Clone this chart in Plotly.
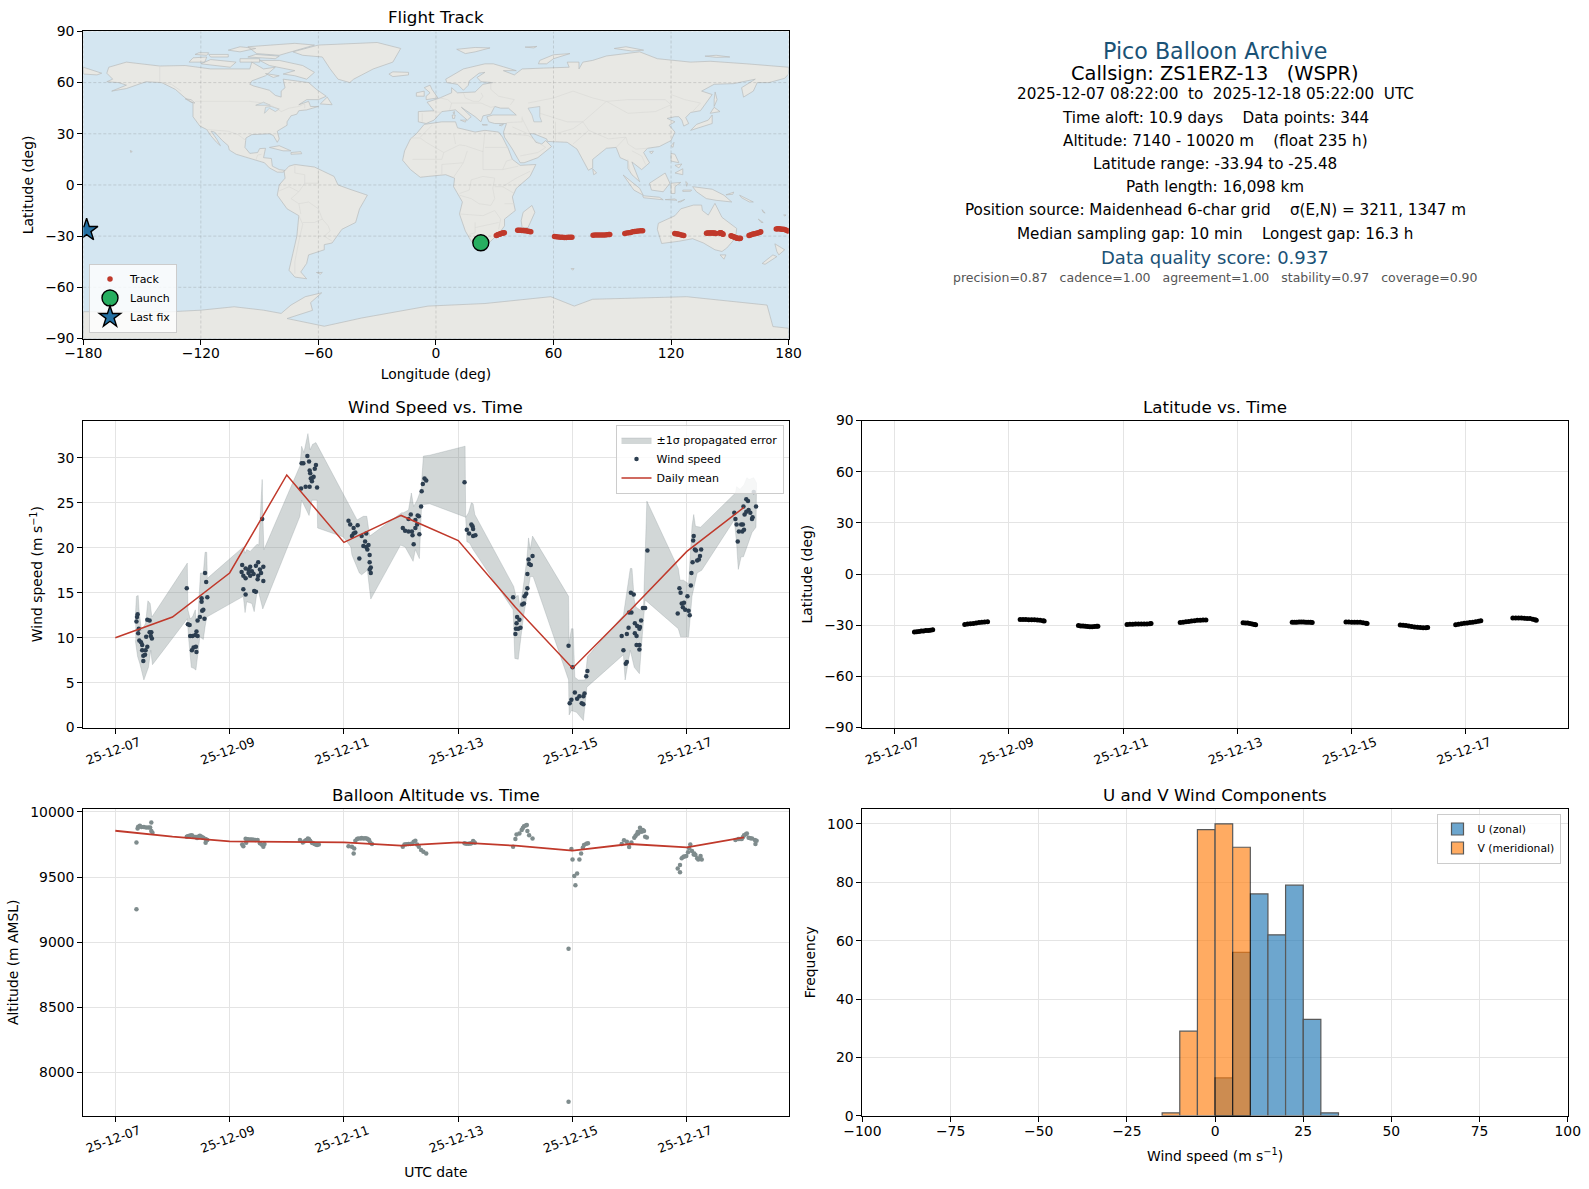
import pandas as pd
import plotly.graph_objects as go

FONT = "DejaVu Sans"
WIDTH = 1589
HEIGHT = 1189
START = pd.Timestamp("2025-12-07")

# --- map outlines (lon, lat) ---
NORTH_AMERICA = [(-168,65.5),(-167,69),(-158,72),(-141,69.7),(-128,70),(-115,68),(-108,68),(-95,68),(-94,72),(-88,68),(-82,69),(-87,64),(-94,61),(-95,59),(-93,58),(-85,55.5),(-82,52.5),(-79,51.5),(-79,55),(-77,57),(-78,62),(-70,61),(-65,60),(-61,56),(-56,52),(-60,50),(-66,50),(-70,47),(-65,49),(-64,46),(-60,46),(-66,44),(-70,43.5),(-71,41.5),(-74,40.5),(-76,37),(-76,35),(-81,31.5),(-80,27),(-81,25),(-83,29),(-85,30),(-90,29.5),(-94,29.5),(-97,27.5),(-97.5,22),(-95,18.5),(-91,19),(-90,21.3),(-87,21.5),(-88,16),(-84,15.5),(-83.5,11),(-80,9),(-77,8.5),(-78,7.5),(-81,7.5),(-85,10),(-87.5,13),(-92,14.5),(-96,16),(-102,18),(-105.5,20.5),(-106,23),(-109,26),(-113,31),(-114.8,31.5),(-112,27),(-110,23),(-112,25),(-115,29),(-117,32.5),(-120.5,34.5),(-124,40),(-124,48),(-128,51),(-133,56),(-140,60),(-148,60.5),(-152,59),(-158,56.5),(-165.5,55),(-158,58.5),(-162,60),(-168,60.5),(-165,62)]
GREENLAND = [(-73,78),(-60,82),(-30,83.5),(-18,80),(-22,72),(-32,68),(-42,62),(-44,60),(-50,62),(-54,68),(-58,75),(-68,76)]
BAFFIN = [(-90,73),(-80,73),(-68,70),(-62,66),(-66,62),(-72,64),(-78,65),(-72,67),(-85,70)]
VICTORIA = [(-120,71),(-105,69),(-102,72),(-115,73.5)]
ELLESMERE = [(-91.5,77),(-80,76),(-62,82),(-72,83),(-96,81)]
AXEL_HEIBERG = [(-106,79),(-100,78),(-92,80),(-100,81)]
BANKS = [(-126,72),(-118,72),(-117,75),(-124,74.5)]
PRINCE_PATRICK = [(-123,76.5),(-117,76),(-116,77.5),(-121,77.5)]
DEVON = [(-96,75),(-82,74),(-80,75.5),(-92,76.5)]
MELVILLE = [(-115,75),(-106,75),(-106,76.5),(-116,76.5)]
SOMERSET = [(-100,72),(-90,72),(-90,74),(-100,74)]
SOUTHAMPTON = [(-87,65.3),(-80,64),(-83,63)]
NEWFOUNDLAND = [(-59,47.5),(-53,47),(-55.5,51.5)]
VANCOUVER = [(-128,50.5),(-125,50),(-123,48),(-125,48.5)]
HAWAII = [(-156,20.2),(-155,19.6),(-155.8,19)]
CUBA = [(-85,22),(-80,23),(-74,20),(-78,20)]
HISPANIOLA = [(-74,19),(-69,19.5),(-68.5,18.3),(-74,18)]
SOUTH_AMERICA = [(-72,12),(-62,10.5),(-52,5),(-50,0),(-44,-2.5),(-35,-6),(-39,-14),(-41,-22),(-48,-26),(-53,-34),(-57,-35),(-57,-38),(-65,-41),(-66,-46),(-69,-51),(-66,-55),(-72,-54),(-75,-50),(-73,-40),(-71,-30),(-70,-18),(-76,-14),(-81,-6),(-80,0),(-77,4),(-77.5,8),(-75,11)]
FALKLANDS = [(-61,-51.3),(-58,-51.3),(-59,-52.3)]
AFRICA = [(-6,35.5),(3,37),(10,37),(11,33.5),(20,31),(25,32),(32,31),(34,28),(37,21),(39,15),(43,11.5),(51,12),(48,5),(41,-2),(39,-7),(40.5,-15),(35,-20),(35,-24),(32.5,-28),(27,-34),(20,-35),(18,-33),(15,-27),(12,-17),(13.5,-10),(9,-1),(9.5,4),(5,6),(-4,5),(-8,4.5),(-13,9),(-17,14.5),(-16,20),(-13,27),(-10,30)]
MADAGASCAR = [(49,-12),(50.5,-16),(47,-25),(44,-25),(43.5,-21),(44.5,-16)]
KERGUELEN = [(69,-49),(70.5,-49),(69.8,-50)]
EURASIA = [(-9,37),(-9,43),(-1,43.5),(-4.5,48.5),(2,51),(8,54),(8,57),(11,54),(20,54.5),(24,59),(29,60),(23,60.5),(21,63),(25,66),(22,65.5),(17,61),(16.5,58.4),(14,55.5),(11,59),(5.5,60),(5,62),(14,68),(25,71),(29.3,71),(41,67),(34.4,67),(40,64.5),(44,68),(55,68.5),(68,69),(67,72),(73,72),(73,68),(75,72),(80,73),(87,75.6),(104,78),(113,74),(130,72),(140,72.5),(158.6,71),(170.5,70),(180,69),(180,65),(178,62.5),(170,60),(164,60),(162,55),(157,51.5),(156,57),(163,62),(152,59.4),(142,59),(135.6,55),(141,53),(135,43.5),(130,42.5),(127.5,39.5),(129,36),(126.5,34.5),(125.5,38),(124,40),(122,40),(118,39),(122,37),(119,35),(122,31),(120,26),(114,22.5),(108,21.5),(106,19),(109,13),(105,9),(100,13.5),(104,1.9),(100,6),(98,9.7),(98,14),(94,16),(92,22),(87,21.5),(80,15),(80,10),(77.8,8.6),(73,19),(72,21),(67,25),(57,25.5),(56.5,27),(50,30),(48,30),(51,25),(54,24),(56,26),(59,22.5),(52,16),(45,13),(43,13),(39,21),(35,28),(34.5,31),(36,36),(30,36),(27,37),(26,40),(29,41),(41,41),(37,45),(33,45),(30,46),(28,41.5),(24,40.5),(23,37),(20,40),(13,45.5),(18,40),(16,38),(10,44),(3,43),(-1,38),(-5,36)]
CHUKOTKA = [(-180,69),(-170.6,65.5),(-173,64.5),(-180,65)]
BRITAIN = [(-5,50),(1,51),(-2,56),(-3,58.5),(-6,57),(-3,54),(-5,52)]
IRELAND = [(-10,52),(-6,52),(-6,55),(-10,54)]
ICELAND = [(-24,65),(-22,66.3),(-14,66),(-14,64.5),(-22,63.5)]
SVALBARD = [(10.6,79.5),(20,80.6),(27.6,80.3),(20,78),(15,77)]
FRANZ_JOSEF = [(45.5,80.8),(51.5,81.2),(50,80.3)]
NOVAYA_ZEMLYA = [(52.3,71),(56.5,71),(60,74),(68.4,77),(60,76.3),(53,73)]
SEVERNAYA_ZEMLYA = [(91,80),(97,81),(106,79),(100,78.5)]
NEW_SIBERIAN = [(137.3,75.5),(143,76),(150,75),(143,74.8)]
HONSHU = [(130,32),(136,34),(141,36),(141,41),(139,38),(133,35.5)]
HOKKAIDO = [(140,42),(145,43),(142,45.5)]
SAKHALIN = [(142,46),(143.5,50),(142.5,54.5),(142,50)]
TAIWAN = [(120,23),(121.5,25),(121,22)]
HAINAN = [(109,19.5),(111,19.8),(110,18.2)]
SRI_LANKA = [(80,9.5),(82,7),(80.5,6)]
SUMATRA = [(95.6,5.8),(104,-2),(105.8,-6),(101,-3)]
JAVA = [(105.5,-6.3),(114,-7.2),(116,-8.7),(106,-7.5)]
FLORES = [(117,-8.6),(122,-8.2),(123,-9),(118,-9)]
TIMOR = [(123.5,-10),(127,-8.5),(125,-9.9)]
BORNEO = [(109,1),(117,7),(119.4,1),(116,-4),(110,-3)]
SULAWESI = [(120,1),(125,1.5),(122,-1),(122,-5),(120,-5)]
HALMAHERA = [(127.5,2),(128.5,1),(128,-0.8)]
SERAM = [(126,-3),(130.5,-3),(130,-3.7),(126,-3.8)]
NEW_GUINEA = [(131,-1),(141,-2.5),(147,-6),(151,-10),(143,-9),(138,-8),(133,-4)]
NEW_BRITAIN = [(148,-5.8),(152,-4.2),(151.5,-5.5)]
SOLOMON = [(155,-6),(162,-10),(160,-10),(156,-7.5)]
VANUATU = [(166.5,-14.5),(168,-16.5),(167,-16)]
NEW_CALEDONIA = [(164.5,-20),(167,-22),(166,-22)]
FIJI = [(177.5,-17.5),(178.7,-17.6),(178,-18.3)]
LUZON = [(120,18.5),(122,18),(124,13),(120,14)]
VISAYAS = [(122,11.5),(125.5,12.3),(124,10)]
MINDANAO = [(122,7),(126,9.5),(126,6)]
AUSTRALIA = [(113.5,-22.5),(122,-18),(125,-14),(131.4,-11.8),(135.6,-11.8),(136,-15),(139,-17.7),(142.4,-10.8),(146,-19),(153.5,-25.5),(153,-31),(148.4,-37),(146,-39),(142.4,-38),(136.5,-34),(131,-31.5),(124,-33),(115.2,-34.3),(113,-26)]
TASMANIA = [(145,-41),(148,-41),(147,-43.5)]
NZ_NORTH = [(173,-34.5),(178,-38),(175,-41),(174,-39)]
NZ_SOUTH = [(172,-41),(174,-42),(168,-46.5),(166.5,-46)]
SICILY = [(12.5,38),(15.5,38),(15,36.8)]
SARDINIA = [(8.3,41),(9.8,41),(9.5,39),(8.5,39)]
CORSICA = [(8.7,42.5),(9.5,43),(9.3,41.5)]
CRETE = [(23.5,35.5),(26.3,35.2),(24,35)]
CYPRUS = [(32.3,35),(34.5,35.6),(33.5,34.7)]
ANTARCTICA = [(-180,-74.3),(-135,-74.3),(-120,-73.4),(-103,-71.4),(-88,-73.4),(-79,-75.3),(-74,-70.4),(-66.7,-65.5),(-58.3,-63.2),(-64,-69),(-63,-73.5),(-76,-78.3),(-57,-82.8),(-38,-78),(-4,-71),(25,-69.5),(58.6,-65.5),(70.6,-71),(80,-67),(128,-65.5),(169,-70.4),(172,-83),(180,-84),(180,-90),(-180,-90)]

LAND = [NORTH_AMERICA, GREENLAND, BAFFIN, VICTORIA, ELLESMERE, AXEL_HEIBERG, BANKS, PRINCE_PATRICK, DEVON, MELVILLE, SOMERSET,
        SOUTHAMPTON, NEWFOUNDLAND, VANCOUVER, HAWAII, CUBA, HISPANIOLA, SOUTH_AMERICA, FALKLANDS, AFRICA, MADAGASCAR, KERGUELEN,
        EURASIA, CHUKOTKA, BRITAIN, IRELAND, ICELAND, SVALBARD, FRANZ_JOSEF, NOVAYA_ZEMLYA, SEVERNAYA_ZEMLYA, NEW_SIBERIAN, HONSHU,
        HOKKAIDO, SAKHALIN, TAIWAN, HAINAN, SRI_LANKA, SUMATRA, JAVA, FLORES, TIMOR, BORNEO, SULAWESI, HALMAHERA, SERAM, NEW_GUINEA,
        NEW_BRITAIN, SOLOMON, VANUATU, NEW_CALEDONIA, FIJI, LUZON, VISAYAS, MINDANAO, AUSTRALIA, TASMANIA, NZ_NORTH, NZ_SOUTH,
        SICILY, SARDINIA, CORSICA, CRETE, CYPRUS, ANTARCTICA]

CASPIAN = [(47,45),(53,46),(53,40),(54,37),(50,37),(49,41)]
SUPERIOR = [(-92,46.7),(-88,48.5),(-84.5,46.7)]
HURON_MICHIGAN = [(-87.5,42),(-87,45.5),(-84,46),(-80,44.5),(-82,43),(-85,45)]
LAKES = [CASPIAN, SUPERIOR, HURON_MICHIGAN]

BORDERS = [
    [(-141,69.7),(-141,60),(-135,59),(-130,55)],
    [(-123,49),(-95,49),(-88,48),(-83,46),(-79,43),(-75,45),(-70,46),(-67,47.5),(-67,45)],
    [(-117,32.5),(-106,31.5),(-101,29.5),(-97,26)],
    [(-92,14.5),(-91,17.5),(-89,18)],
    [(-72,12),(-72,7),(-67,6),(-67,1)],
    [(-60,8),(-60,1),(-67,1),(-70,-4),(-74,-8),(-70,-11),(-65,-10),(-60,-14),(-58,-20),(-55,-24),(-54,-27),(-57,-30),(-53,-33)],
    [(-70,-18),(-68,-23),(-70,-33),(-72,-45),(-72,-52)],
    [(-70,-11),(-69,-17)],
    [(-68,-22),(-62,-22),(-58,-20)],
    [(-80,-3.5),(-75,-1),(-70,-4)],
    [(-2,35),(-8,28)],
    [(-13,27.5),(-8,27.5),(-5,25),(4,19),(12,23.5),(15,23),(24,19.5),(25,31.5)],
    [(9,30),(10,24)],
    [(25,22),(37,22)],
    [(24,20),(24,9),(34,9),(36,14),(39,15)],
    [(14,13),(16,20)],
    [(-12,15),(-5,15),(3,15),(4,19)],
    [(3,6),(3,12),(14,13),(9,4.5)],
    [(12,-6),(18,-8),(22,-11),(28,-12),(30,-8),(29,-2),(30,4),(24,5),(18,3),(17,-3),(12,-5)],
    [(12,-17),(24,-18),(30,-15),(33,-20),(32,-26)],
    [(17,-29),(20,-28),(20,-22)],
    [(35,-11),(40,-11)],
    [(20,-25),(27,-23),(32,-22)],
    [(30,-1),(34,-1),(40,-5)],
    [(34,-1),(41,4),(48,8)],
    [(34,9),(42,11)],
    [(2,51),(6,50),(8,48),(7,44)],
    [(-2,43),(3,42.5)],
    [(-7,42),(-7,37)],
    [(14,54),(15,51),(19,49),(22,49),(24,52),(23,54)],
    [(8,48),(13,48),(17,48),(23,48),(28,45.5),(30,46)],
    [(28,60),(28,56),(32,52),(40,50),(38,47)],
    [(47,48),(60,51),(70,55),(80,51),(87,49)],
    [(87,49),(98,42),(112,43),(120,47),(117,50),(107,50),(98,50),(87,49)],
    [(120,53),(127,50),(135,48),(131,43)],
    [(53,42),(67,37),(75,37),(80,42),(87,49)],
    [(44,39),(48,30)],
    [(61,37),(61,25)],
    [(61,30),(70,33),(75,37),(78,32),(70,24)],
    [(78,32),(88,27),(97,28),(92,22)],
    [(97,28),(98,24),(102,21),(108,21.5)],
    [(100,20),(105,17),(107,12)],
    [(98,15),(99,8)],
    [(36,30),(47,29),(56,22),(52,19),(43,17)],
    [(39,34),(47,30)],
    [(36,36.5),(44,37),(44,40)],
]

MAP_LON_TICKS = [-180, -120, -60, 0, 60, 120, 180]
MAP_LAT_TICKS = [-90, -60, -30, 0, 30, 60, 90]

# --- track: days since 2025-12-07 00:00, latitude, longitude ---
track_day = [0.35,0.39,0.43,0.47,0.51,0.55,0.59,0.63,0.67,
             1.23,1.28,1.33,1.38,1.43,1.48,1.53,1.58,1.63,
             2.20,2.25,2.30,2.35,2.40,2.45,2.50,2.55,2.60,2.62,
             3.22,3.26,3.30,3.34,3.38,3.42,3.46,3.50,3.54,3.56,
             4.07,4.12,4.17,4.22,4.27,4.32,4.37,4.42,4.47,4.49,
             5.00,5.05,5.10,5.15,5.20,5.25,5.30,5.35,5.40,5.45,
             6.10,6.14,6.18,6.22,6.26,6.30,6.32,
             6.96,7.00,7.04,7.08,7.12,7.16,7.20,7.24,7.28,7.31,
             7.90,7.95,8.00,8.05,8.10,8.15,8.20,8.25,8.27,
             8.85,8.90,8.95,9.00,9.05,9.10,9.15,9.20,9.25,9.30,9.33,
             9.82,9.87,9.92,9.97,10.02,10.07,10.12,10.17,10.22,10.26,
             10.82,10.87,10.92,10.97,11.02,11.07,11.12,11.17,11.21,11.23]
track_lat = [-34.0,-33.8,-33.6,-33.4,-33.3,-33.1,-33.0,-32.9,-32.7,
             -29.6,-29.3,-29.1,-28.9,-28.6,-28.4,-28.2,-28.1,-28.0,
             -26.6,-26.6,-26.6,-26.7,-26.7,-26.8,-26.9,-27.1,-27.3,-27.5,
             -30.2,-30.4,-30.5,-30.6,-30.7,-30.8,-30.8,-30.7,-30.6,-30.6,
             -29.5,-29.4,-29.4,-29.3,-29.3,-29.3,-29.3,-29.2,-29.1,-29.0,
             -28.4,-28.2,-28.0,-27.8,-27.5,-27.3,-27.1,-27.0,-26.9,-26.9,
             -28.5,-28.6,-28.7,-28.9,-29.2,-29.5,-29.7,
             -28.3,-28.2,-28.2,-28.1,-28.1,-28.1,-28.2,-28.2,-28.3,-28.4,
             -28.1,-28.1,-28.2,-28.2,-28.2,-28.3,-28.5,-28.8,-28.9,
             -29.8,-30.0,-30.2,-30.5,-30.7,-31.0,-31.2,-31.3,-31.4,-31.4,-31.3,
             -29.7,-29.4,-29.1,-28.8,-28.6,-28.4,-28.2,-28.0,-27.7,-27.4,
             -25.8,-25.7,-25.7,-25.8,-25.9,-26.0,-26.1,-26.4,-26.8,-27.0]
track_lon = [22.9,23.1,23.3,23.5,23.7,23.9,24.1,24.3,24.5,
             30.8,31.3,31.8,32.4,32.9,33.4,33.9,34.4,34.9,
             41.7,42.4,43.2,43.9,44.7,45.4,46.2,47.0,47.8,48.4,
             60.5,61.5,62.5,63.5,64.5,65.5,66.5,67.5,68.5,69.4,
             80.2,81.2,82.2,83.2,84.2,85.2,86.2,87.2,88.2,88.7,
             96.4,97.4,98.4,99.4,100.4,101.4,102.4,103.4,104.5,105.5,
             121.9,122.6,123.3,124.0,124.9,125.8,126.5,
             138.1,138.6,139.2,139.8,140.3,140.9,141.4,142.0,142.5,142.9,
             144.8,145.0,145.2,145.4,145.6,145.8,146.1,146.4,146.5,
             150.6,151.1,151.6,152.1,152.6,153.1,153.6,154.1,154.6,155.1,155.4,
             159.8,160.5,161.2,161.9,162.6,163.3,164.0,164.7,165.4,165.8,
             173.7,174.4,175.1,175.8,176.5,177.2,177.9,178.6,179.4,180.0]
launch_lon = [22.9]
launch_lat = [-33.9]
last_lon = [-178.3]
last_lat = [-26.5]

# --- wind speed ---
wind_day = [0.39,0.38,0.37,0.41,0.40,0.42,0.45,0.47,0.47,0.53,0.56,0.54,0.60,0.63,0.62,0.64,0.56,0.60,0.49,0.49,0.52,
            1.25,1.27,1.30,1.31,1.35,1.40,1.42,1.44,1.34,1.37,1.41,1.42,1.44,1.48,1.52,1.54,1.51,1.51,1.56,1.61,1.59,1.57,
            2.24,2.28,2.43,2.46,2.21,2.24,2.28,2.22,2.28,2.33,2.36,2.39,2.42,2.33,2.36,2.46,2.50,2.53,2.55,2.50,2.49,2.59,2.59,2.57,
            3.25,3.33,3.40,3.53,3.26,3.29,3.36,3.39,3.40,3.41,3.51,3.49,3.47,3.42,3.44,3.45,
            4.08,4.11,4.17,4.24,4.20,4.17,4.14,4.27,4.31,4.39,4.37,4.34,4.39,4.43,4.41,4.45,4.45,4.47,4.45,4.47,
            5.03,5.07,5.13,5.19,5.20,5.22,5.25,5.28,5.32,5.17,5.13,5.25,5.29,5.31,5.35,5.36,5.38,5.41,5.44,
            6.11,6.15,6.19,6.23,6.25,6.26,6.26,6.30,
            6.96,7.00,7.02,7.03,7.07,7.01,7.05,7.09,7.12,7.15,7.16,7.19,7.21,7.21,7.24,7.23,7.27,7.30,
            7.93,8.00,7.95,7.98,8.04,8.08,8.12,8.16,8.19,8.19,8.21,8.24,8.26,
            8.86,8.89,8.93,8.95,8.95,8.98,8.99,9.03,9.02,9.07,9.09,9.09,9.12,9.13,9.17,9.20,9.18,9.12,9.17,9.17,9.23,9.27,9.31,
            9.84,9.87,9.89,9.91,9.93,9.95,9.97,10.01,10.03,10.05,10.07,10.08,10.10,10.12,10.11,10.14,10.16,10.18,10.21,10.23,10.25,
            10.83,10.85,10.87,10.89,10.91,10.95,10.98,10.97,11.00,10.99,11.01,11.04,11.07,11.04,11.08,11.11,11.14,11.15,11.17,11.21]
wind_speed = [12.6,12.3,11.8,11.0,10.5,9.7,9.5,9.2,8.6,8.6,9.0,10.1,10.6,10.6,10.2,9.9,12.0,11.9,7.4,8.0,8.1,
              15.5,11.5,11.4,10.2,10.2,10.3,10.7,10.2,8.6,8.9,9.0,8.4,11.9,12.3,13.0,13.1,14.0,14.4,12.1,14.5,16.2,17.2,
              15.4,14.8,15.2,15.1,17.3,16.9,16.6,18.1,17.7,17.6,17.9,17.4,17.1,17.2,16.9,18.0,18.4,17.6,17.2,16.9,16.5,17.9,16.3,23.2,
              26.6,26.8,26.8,26.7,29.4,29.4,30.2,29.6,28.6,28.3,29.2,28.8,27.9,27.7,27.4,27.8,
              23.0,22.6,22.2,22.5,21.7,21.6,21.3,18.8,21.3,21.6,20.7,20.2,20.1,20.3,19.8,19.2,18.4,17.8,17.6,17.2,
              22.2,21.9,21.8,21.8,21.4,20.4,22.2,22.6,21.5,23.7,23.2,23.1,23.6,23.5,24.6,26.3,27.1,27.7,27.5,
              27.3,22.0,21.6,22.6,22.4,22.1,21.3,21.4,
              14.5,10.4,11.6,12.3,12.0,11.0,11.0,11.1,13.7,13.8,14.6,14.9,15.5,17.1,18.2,18.7,18.1,19.1,
              9.1,6.7,2.7,3.1,3.9,3.2,3.5,2.7,2.6,3.5,3.8,5.7,6.3,
              10.2,8.6,7.1,7.3,10.4,11.1,12.8,12.8,15.0,14.8,11.6,10.5,10.2,11.3,11.0,11.9,11.2,9.2,9.2,8.7,13.3,13.3,19.7,
              12.7,15.5,15.0,13.8,13.4,13.9,13.1,14.6,13.0,12.5,15.8,17.2,18.4,21.3,20.8,19.8,19.7,18.6,18.7,19.1,19.8,
              23.9,23.2,22.6,20.7,21.8,22.6,22.6,21.8,22.0,24.6,23.7,25.4,25.2,24.0,24.2,23.9,23.2,23.4,26.2,24.6]

band_upper_day = [0.35,0.37,0.40,0.42,0.46,0.53,0.57,0.61,0.64,1.26,1.27,1.31,1.35,1.40,1.42,1.45,1.49,1.54,1.57,1.60,1.61,
                  2.24,2.27,2.30,2.36,2.39,2.43,2.48,2.51,2.57,2.58,2.60,3.23,3.26,3.30,3.37,3.41,3.45,3.51,4.11,4.14,4.23,
                  4.34,4.40,4.45,5.01,5.04,5.13,5.18,5.22,5.28,5.35,5.39,5.50,6.12,6.13,6.18,6.23,6.26,6.29,6.97,7.01,7.05,
                  7.08,7.13,7.20,7.23,7.26,7.30,7.93,7.94,7.98,8.01,8.04,8.10,8.16,8.22,8.26,8.89,9.01,9.04,9.08,9.11,9.18,
                  9.24,9.30,9.85,9.88,9.94,10.03,10.09,10.12,10.15,10.24,10.85,10.87,10.93,11.00,11.05,11.09,11.17,11.22]
band_upper = [12.3,14.6,14.7,12.7,10.8,11.6,14.1,13.8,12.3,18.3,13.1,12.1,12.3,13.1,11.6,12.7,17.2,17.2,19.5,19.5,16.6,
              20.1,19.4,19.8,19.6,19.8,20.1,20.4,20.3,27.6,23.9,19.8,29.1,31.3,30.6,32.7,30.9,31.5,31.7,24.6,24.2,23.1,
              23.5,23.5,21.3,23.9,23.9,24.2,26.1,24.6,25.3,26.5,30.2,30.3,31.3,23.4,23.9,25.0,24.9,23.7,15.7,14.6,14.7,
              13.4,15.3,18.7,21.1,19.8,21.3,14.6,9.4,11.0,11.0,5.6,5.3,5.3,5.3,7.9,12.5,17.7,17.7,14.2,13.4,13.1,
              13.1,25.2,17.7,16.4,16.4,16.0,22.4,23.7,22.4,22.3,26.1,26.8,26.5,27.0,27.8,27.6,27.8,27.2]
band_lower_day = [0.35,0.39,0.43,0.50,0.54,0.58,0.62,0.65,1.26,1.28,1.33,1.37,1.41,1.44,1.48,1.54,1.57,1.60,2.24,2.27,2.30,
                  2.39,2.43,2.48,2.51,2.58,3.23,3.26,3.39,3.44,3.53,3.54,3.99,4.12,4.14,4.27,4.31,4.41,4.45,4.47,4.99,5.07,
                  5.21,5.25,5.32,5.36,5.50,6.13,6.15,6.20,6.26,6.96,6.99,7.05,7.09,7.14,7.26,7.31,7.93,7.94,7.98,8.07,8.19,
                  8.25,8.89,8.92,9.01,9.08,9.17,9.20,9.27,9.85,9.89,9.95,10.03,10.09,10.18,10.26,10.83,10.87,10.90,10.95,
                  10.99,11.04,11.14,11.21]
band_lower = [9.7,7.9,7.1,5.3,6.0,6.7,8.6,7.0,12.1,10.1,6.7,6.6,6.4,8.2,10.1,9.8,11.2,12.3,14.6,12.8,14.0,
              13.8,12.9,15.1,15.0,13.2,23.5,25.3,23.6,25.3,25.3,22.2,21.2,20.1,19.2,17.2,17.0,17.5,15.3,14.3,20.3,20.1,
              18.5,19.8,18.8,24.8,24.9,23.4,20.7,20.5,19.8,13.1,7.7,7.6,9.4,12.3,16.8,16.8,5.3,1.4,1.9,1.7,0.8,
              4.5,8.1,5.3,8.6,6.7,6.0,8.6,14.2,11.0,10.1,10.1,10.1,14.6,17.2,17.5,23.1,20.5,17.6,19.0,
              19.0,20.0,21.7,22.3]

daily_day = [0, 1, 2, 3, 4, 5, 6, 7, 8, 9, 10, 11]
daily_wind = [10.0, 12.3, 17.2, 28.1, 20.6, 23.6, 20.8, 13.4, 6.6, 13.0, 19.6, 24.5]
daily_alt = [9855, 9809, 9773, 9770, 9765, 9740, 9765, 9740, 9702, 9753, 9727, 9804]

# --- altitude ---
alt_day = [0.37,0.37,0.39,0.40,0.43,0.46,0.50,0.54,0.58,0.61,0.63,0.63,0.65,
           1.25,1.27,1.29,1.31,1.34,1.37,1.40,1.43,1.44,1.46,1.48,1.51,1.54,1.58,1.58,1.61,
           2.28,2.29,2.22,2.24,2.31,2.33,2.36,2.39,2.42,2.45,2.49,2.53,2.56,2.59,2.61,
           3.23,3.28,3.31,3.34,3.37,3.39,3.41,3.44,3.46,3.49,3.51,3.53,3.56,
           4.08,4.14,4.18,4.17,4.20,4.23,4.25,4.29,4.31,4.34,4.37,4.40,4.42,4.44,4.46,4.49,
           5.03,5.06,5.09,5.13,5.16,5.19,5.22,5.25,5.28,5.31,5.35,5.39,5.44,
           6.11,6.14,6.18,6.21,6.23,6.26,6.27,6.29,
           6.96,7.00,7.02,7.07,7.11,7.13,7.15,7.18,7.20,7.21,7.24,7.30,
           7.93,7.93,7.98,8.00,8.12,8.15,8.08,8.03,8.05,8.18,8.20,8.24,8.27,
           8.86,8.90,8.95,8.99,9.03,9.08,9.10,9.12,9.14,9.15,9.17,9.18,9.21,9.23,9.25,9.30,9.27,
           9.84,9.88,9.88,9.91,9.94,9.96,9.99,10.02,10.04,10.06,10.09,10.12,10.13,10.15,10.18,10.20,10.22,10.24,10.26,
           10.85,10.90,10.93,10.96,10.98,11.00,11.03,11.05,11.08,11.11,11.14,11.19,11.20,11.22]
alt_m = [9765,9253,9872,9885,9893,9883,9883,9880,9880,9880,9918,9852,9839,
         9809,9812,9814,9818,9821,9809,9806,9800,9809,9805,9816,9809,9801,9791,9763,9783,
         9793,9763,9750,9735,9790,9788,9788,9788,9786,9783,9783,9758,9750,9732,9753,
         9783,9765,9775,9783,9796,9790,9776,9763,9758,9753,9750,9745,9750,
         9735,9732,9719,9681,9778,9791,9795,9796,9800,9796,9798,9796,9790,9783,9765,9753,
         9732,9750,9752,9753,9754,9755,9770,9778,9750,9732,9707,9694,9681,
         9758,9756,9755,9757,9758,9776,9768,9763,
         9732,9791,9827,9834,9860,9875,9890,9895,9898,9852,9821,9796,
         8950,7775,9714,9635,9635,9681,9526,9508,9436,9724,9745,9755,9758,
         9753,9781,9770,9730,9765,9801,9815,9827,9845,9834,9850,9878,9847,9860,9852,9804,9809,
         9566,9536,9592,9643,9656,9658,9661,9689,9720,9750,9699,9673,9680,9668,9643,9635,9640,9661,9635,
         9783,9791,9791,9791,9805,9821,9828,9834,9801,9798,9796,9783,9753,9778]

# --- histogram, 5 m/s bins ---
u_bin_centers = [2.5, 7.5, 12.5, 17.5, 22.5, 27.5, 32.5]
u_counts = [13, 56, 76, 62, 79, 33, 1]
v_bin_centers = [-12.5, -7.5, -2.5, 2.5, 7.5]
v_counts = [1, 29, 98, 100, 92]

# --- summary text: text, size, colour, centre y in px ---
summary_lines = [
    ("Pico Balloon Archive", 22.2, "#1a5276", 51),
    ("Callsign: ZS1ERZ-13   (WSPR)", 19.4, "#000000", 73.5),
    ("2025-12-07 08:22:00  to  2025-12-18 05:22:00  UTC", 15.2, "#000000", 94.5),
    ("Time aloft: 10.9 days    Data points: 344", 15.2, "#000000", 118),
    ("Altitude: 7140 - 10020 m    (float 235 h)", 15.2, "#000000", 141),
    ("Latitude range: -33.94 to -25.48", 15.2, "#000000", 163.5),
    ("Path length: 16,098 km", 15.2, "#000000", 187),
    ("Position source: Maidenhead 6-char grid    σ(E,N) = 3211, 1347 m", 15.2, "#000000", 210),
    ("Median sampling gap: 10 min    Longest gap: 16.3 h", 15.2, "#000000", 233.5),
    ("Data quality score: 0.937", 18, "#1a5276", 257.5),
    ("precision=0.87   cadence=1.00   agreement=1.00   stability=0.97   coverage=0.90", 12.5, "#555555", 278),
]

LEFT_X = (83.3, 788.6)
RIGHT_X = (862.4, 1567.7)
ROW1_Y = (31.4, 338.5)
ROW2_Y = (420.6, 727.6)
ROW3_Y = (808.7, 1115.8)
GRID = "#e4e4e4"
OCEAN = "#d4e6f1"
LAND_COLOR = "#e8e8e4"


def dom_x(span):
    return [span[0] / WIDTH, span[1] / WIDTH]


def dom_y(span):
    return [1 - span[1] / HEIGHT, 1 - span[0] / HEIGHT]


def to_dates(days):
    return [START + pd.Timedelta(days=d) for d in days]


def flatten(parts, closed=True):
    xs, ys = [], []
    for part in parts:
        pts = part + part[:1] if closed else part
        xs += [p[0] for p in pts] + [None]
        ys += [p[1] for p in pts] + [None]
    return xs, ys


def base_axis(**kwargs):
    axis = dict(
        automargin=False,
        showline=True, linecolor="black", linewidth=1.1, mirror=True,
        ticks="outside", ticklen=5, tickwidth=1.1, tickcolor="black",
        showgrid=True, gridcolor=GRID, gridwidth=1, zeroline=False,
        tickfont=dict(family=FONT, size=13.9, color="black"),
        title_font=dict(family=FONT, size=13.9, color="black"),
    )
    axis.update(kwargs)
    return axis


def date_axis(span, anchor, title=None):
    axis = base_axis(
        domain=dom_x(span), anchor=anchor, type="date",
        range=[START + pd.Timedelta(days=-0.56), START + pd.Timedelta(days=11.78)],
        tick0="2025-12-07", dtick=2 * 86400000, tickformat="%y-%m-%d",
        tickangle=-20, ticklabelshift=24, ticklabelstandoff=-3,
        tickfont=dict(family=FONT, size=12.5, color="black"),
    )
    if title:
        axis.update(title=dict(text=title, standoff=12))
    return axis


def add_map(fig):
    land_x, land_y = flatten(LAND)
    fig.add_trace(go.Scatter(x=land_x, y=land_y, mode="lines", fill="toself", fillcolor=LAND_COLOR,
                             line=dict(color="#b9bcbc", width=0.7), hoverinfo="skip", showlegend=False,
                             xaxis="x", yaxis="y"))
    lake_x, lake_y = flatten(LAKES)
    fig.add_trace(go.Scatter(x=lake_x, y=lake_y, mode="lines", fill="toself", fillcolor=OCEAN,
                             line=dict(color="#b9bcbc", width=0.6), hoverinfo="skip", showlegend=False,
                             xaxis="x", yaxis="y"))
    border_x, border_y = flatten(BORDERS, closed=False)
    fig.add_trace(go.Scatter(x=border_x, y=border_y, mode="lines", line=dict(color="#d9d9d5", width=0.6),
                             hoverinfo="skip", showlegend=False, xaxis="x", yaxis="y"))

    grid_x, grid_y = [], []
    for lon in MAP_LON_TICKS:
        grid_x += [lon, lon, None]
        grid_y += [-90, 90, None]
    for lat in MAP_LAT_TICKS:
        grid_x += [-180, 180, None]
        grid_y += [lat, lat, None]
    fig.add_trace(go.Scatter(x=grid_x, y=grid_y, mode="lines",
                             line=dict(color="rgba(120,120,120,0.35)", width=0.7, dash="3px,2px"),
                             hoverinfo="skip", showlegend=False, xaxis="x", yaxis="y"))

    fig.add_trace(go.Scatter(x=track_lon, y=track_lat, mode="markers", name="Track",
                             marker=dict(color="#c0392b", size=5.5), xaxis="x", yaxis="y", legend="legend"))
    fig.add_trace(go.Scatter(x=launch_lon, y=launch_lat, mode="markers", name="Launch",
                             marker=dict(color="#27ae60", size=16, symbol="circle", line=dict(color="black", width=1.4)),
                             xaxis="x", yaxis="y", legend="legend"))
    fig.add_trace(go.Scatter(x=last_lon, y=last_lat, mode="markers", name="Last fix",
                             marker=dict(color="#2471a3", size=17, symbol="star", line=dict(color="black", width=1.4)),
                             xaxis="x", yaxis="y", legend="legend"))


def add_wind(fig):
    band_x = to_dates(band_upper_day + band_lower_day[::-1])
    band_y = band_upper + band_lower[::-1]
    fig.add_trace(go.Scatter(x=band_x, y=band_y, mode="lines", fill="toself", name="±1σ propagated error",
                             fillcolor="rgba(127,140,141,0.35)", line=dict(color="rgba(127,140,141,0.3)", width=0.8),
                             hoverinfo="skip", xaxis="x2", yaxis="y2", legend="legend2"))
    fig.add_trace(go.Scatter(x=to_dates(wind_day), y=wind_speed, mode="markers", name="Wind speed",
                             marker=dict(color="#2c3e50", size=4.5), xaxis="x2", yaxis="y2", legend="legend2"))
    fig.add_trace(go.Scatter(x=to_dates(daily_day), y=daily_wind, mode="lines", name="Daily mean",
                             line=dict(color="#c0392b", width=1.5), xaxis="x2", yaxis="y2", legend="legend2"))


def add_latitude(fig):
    fig.add_trace(go.Scatter(x=to_dates(track_day), y=track_lat, mode="markers", showlegend=False,
                             marker=dict(color="black", size=5), xaxis="x3", yaxis="y3"))


def add_altitude(fig):
    fig.add_trace(go.Scatter(x=to_dates(alt_day), y=alt_m, mode="markers", showlegend=False,
                             marker=dict(color="#7f8c8d", size=4.5), xaxis="x4", yaxis="y4"))
    fig.add_trace(go.Scatter(x=to_dates(daily_day), y=daily_alt, mode="lines", showlegend=False,
                             line=dict(color="#c0392b", width=1.8), xaxis="x4", yaxis="y4"))


def add_histogram(fig):
    fig.add_trace(go.Bar(x=u_bin_centers, y=u_counts, width=5, name="U (zonal)", opacity=0.65,
                         marker=dict(color="#1f77b4", line=dict(color="black", width=1.2)),
                         xaxis="x5", yaxis="y5", legend="legend3"))
    fig.add_trace(go.Bar(x=v_bin_centers, y=v_counts, width=5, name="V (meridional)", opacity=0.65,
                         marker=dict(color="#ff7f0e", line=dict(color="black", width=1.2)),
                         xaxis="x5", yaxis="y5", legend="legend3"))


def titles():
    items = [
        ("Flight Track", LEFT_X, ROW1_Y),
        ("Wind Speed vs. Time", LEFT_X, ROW2_Y),
        ("Latitude vs. Time", RIGHT_X, ROW2_Y),
        ("Balloon Altitude vs. Time", LEFT_X, ROW3_Y),
        ("U and V Wind Components", RIGHT_X, ROW3_Y),
    ]
    notes = []
    for text, xspan, yspan in items:
        notes.append(dict(text=text, xref="paper", yref="paper", x=sum(dom_x(xspan)) / 2, y=dom_y(yspan)[1],
                          xanchor="center", yanchor="bottom", yshift=2, showarrow=False,
                          font=dict(family=FONT, size=16.7, color="black")))
    for text, size, color, ypos in summary_lines:
        notes.append(dict(text=text, xref="paper", yref="paper", x=sum(dom_x(RIGHT_X)) / 2, y=1 - ypos / HEIGHT,
                          xanchor="center", yanchor="middle", showarrow=False,
                          font=dict(family=FONT, size=size, color=color)))
    return notes


def legend_box(x, y, xanchor, yanchor, size):
    return dict(x=x / WIDTH, y=1 - y / HEIGHT, xanchor=xanchor, yanchor=yanchor,
                bgcolor="rgba(255,255,255,0.8)", bordercolor="#cccccc", borderwidth=1,
                font=dict(family=FONT, size=size, color="black"), tracegroupgap=0, itemsizing="trace")


fig = go.Figure()
add_map(fig)
add_wind(fig)
add_latitude(fig)
add_altitude(fig)
add_histogram(fig)

fig.update_layout(
    template="none",
    width=WIDTH,
    height=HEIGHT,
    autosize=False,
    margin=dict(l=0, r=0, t=0, b=0),
    paper_bgcolor="white",
    plot_bgcolor="white",
    barmode="overlay",
    font=dict(family=FONT, color="black"),
    annotations=titles(),
    shapes=[dict(type="rect", xref="x domain", yref="y domain", x0=0, x1=1, y0=0, y1=1,
                 fillcolor=OCEAN, line_width=0, layer="below")],
    xaxis=base_axis(domain=dom_x(LEFT_X), anchor="y", range=[-180, 180], tickvals=MAP_LON_TICKS, showgrid=False,
                    ticklabelstandoff=-3, title=dict(text="Longitude (deg)", standoff=9)),
    yaxis=base_axis(domain=dom_y(ROW1_Y), anchor="x", range=[-90, 90], tickvals=MAP_LAT_TICKS, showgrid=False,
                    title=dict(text="Latitude (deg)", standoff=8)),
    xaxis2=date_axis(LEFT_X, "y2"),
    yaxis2=base_axis(domain=dom_y(ROW2_Y), anchor="x2", range=[0, 34.15], dtick=5,
                     title=dict(text="Wind speed (m s<sup>−1</sup>)", standoff=10)),
    xaxis3=date_axis(RIGHT_X, "y3"),
    yaxis3=base_axis(domain=dom_y(ROW2_Y), anchor="x3", range=[-90, 90], tickvals=MAP_LAT_TICKS,
                     title=dict(text="Latitude (deg)", standoff=8)),
    xaxis4=date_axis(LEFT_X, "y4", "UTC date"),
    yaxis4=base_axis(domain=dom_y(ROW3_Y), anchor="x4", range=[7668, 10024], tickvals=[8000, 8500, 9000, 9500, 10000],
                     tickformat="d", title=dict(text="Altitude (m AMSL)", standoff=8)),
    xaxis5=base_axis(domain=dom_x(RIGHT_X), anchor="y5", range=[-100, 100], dtick=25, ticklabelstandoff=-3,
                     title=dict(text="Wind speed (m s<sup>−1</sup>)", standoff=13)),
    yaxis5=base_axis(domain=dom_y(ROW3_Y), anchor="x5", range=[0, 105.2], dtick=20,
                     title=dict(text="Frequency", standoff=8)),
    legend=legend_box(89, 332.5, "left", "bottom", 11),
    legend2=legend_box(783.5, 424.5, "right", "top", 11),
    legend3=legend_box(1560.5, 813.5, "right", "top", 10.8),
)

fig.write_html("out.html", config={"displayModeBar": False}, post_script="document.body.style.margin='0';")
